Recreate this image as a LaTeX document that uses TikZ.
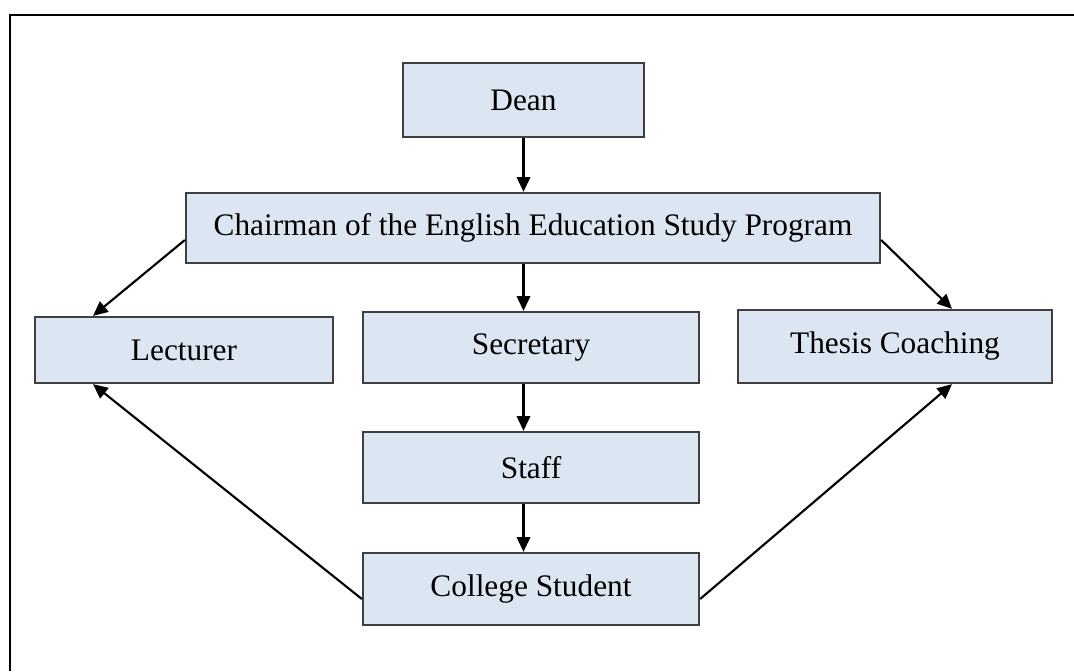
\documentclass[tikz,border=0pt]{standalone}
\usepackage{fontspec}
\setmainfont{Liberation Serif}
\usetikzlibrary{arrows.meta,calc,shadows}
\definecolor{boxfill}{HTML}{DCE6F2}
\definecolor{boxline}{HTML}{404040}
\tikzset{
  orgbox/.style={draw=boxline, line width=1.7pt, fill=boxfill, inner sep=0pt,
    font=\fontsize{23.5}{27}\selectfont,
    drop shadow={shadow xshift=0.8pt, shadow yshift=-0.8pt, opacity=0.25, fill=black}},
  link/.style={line width=1.6pt, -{Triangle[length=11pt,width=10pt]}},
  frame/.style={line width=2.2pt}
}
\begin{document}
\begin{tikzpicture}[x=0.75pt,y=-0.75pt]
  \useasboundingbox (0,0) rectangle (1074,671);
  % outer frame (open to the right and bottom)
  \coordinate (fbl) at (10,671);
  \coordinate (ftl) at (10,15);
  \coordinate (ftr) at (1074,15);
  \draw[frame] (fbl) -- (ftl) -- (ftr);

  % boxes
  \node[orgbox, minimum width=241*0.75pt, minimum height=74*0.75pt] (dean) at (523.5,100) {Dean};
  \node[orgbox, minimum width=694*0.75pt, minimum height=70*0.75pt] (chair) at (533,228) {Chairman of the English Education Study Program};
  \node[orgbox, minimum width=298*0.75pt, minimum height=66*0.75pt] (lect) at (184,350) {Lecturer};
  \node[orgbox, minimum width=336*0.75pt, minimum height=71*0.75pt] (sec) at (531,347.5) {Secretary};
  \node[orgbox, minimum width=314*0.75pt, minimum height=73*0.75pt] (thesis) at (895,346.5) {Thesis Coaching};
  \node[orgbox, minimum width=336*0.75pt, minimum height=71*0.75pt] (staff) at (531,467.5) {Staff};
  \node[orgbox, minimum width=336*0.75pt, minimum height=72*0.75pt] (student) at (531,589) {College Student};

  % vertical links
  \draw[link] (dean.south) -- (chair.north -| dean.south);
  \draw[link] (chair.south -| dean.south) -- (sec.north -| dean.south);
  \draw[link] (sec.south -| dean.south) -- (staff.north -| dean.south);
  \draw[link] (staff.south -| dean.south) -- (student.north -| dean.south);

  % diagonal links
  \draw[link] ($(chair.west)+(0,12)$) -- ($(lect.north)+(-91,0)$);
  \draw[link] ($(chair.east)+(0,12)$) -- ($(thesis.north)+(57,0)$);
  \draw[link] ($(student.west)+(0,10)$) -- ($(lect.south)+(-91,0)$);
  \draw[link] ($(student.east)+(0,10)$) -- ($(thesis.south)+(57,0)$);
\end{tikzpicture}
\end{document}
